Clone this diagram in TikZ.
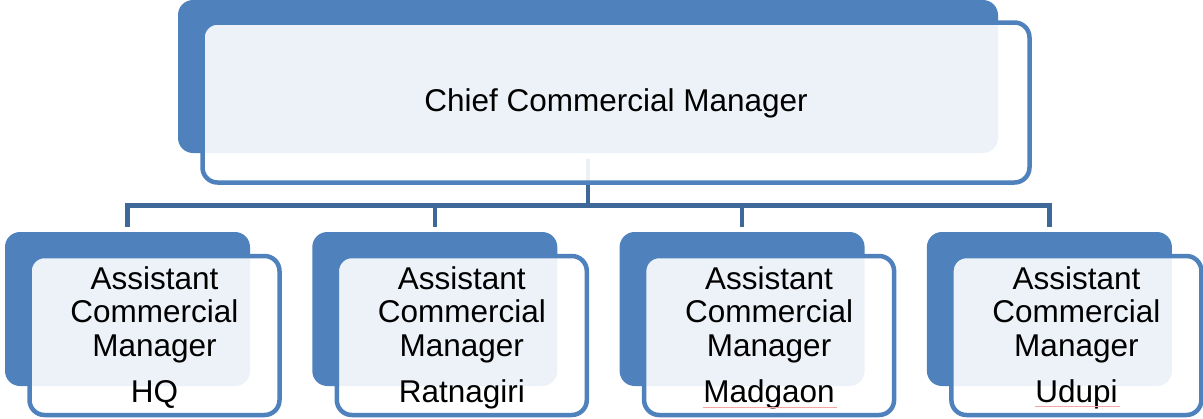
\documentclass[tikz,border=0pt]{standalone}
\usepackage{fontspec}
\setmainfont{Liberation Sans}
\definecolor{accent}{HTML}{4F81BD}
\definecolor{connblue}{HTML}{3E689A}
\definecolor{spell}{HTML}{F4A6A6}
\begin{document}
\begin{tikzpicture}[x=1pt,y=-1pt,
  backbox/.style={fill=accent, draw=none, rounded corners=15pt, inner sep=0pt, outer sep=0pt},
  frontbox/.style={fill=white, fill opacity=0.9, draw=accent, draw opacity=1, line width=4.5pt, rounded corners=15pt, inner sep=0pt, outer sep=0pt},
  conn/.style={draw=connblue, line width=4.5pt},
  lbl/.style={text=black, align=center, inner sep=0pt, font=\fontsize{31.5}{33.5}\selectfont},
  spellline/.style={draw=spell, line width=1pt}
]
\useasboundingbox (0,0) rectangle (1203,418);
% back boxes
\node[backbox, minimum width=820pt, minimum height=153pt] (tb) at (588,76.5) {};
\foreach \i/\x in {1/5,2/312.3,3/619.6,4/926.9}{
  \node[backbox, minimum width=245pt, minimum height=154pt] (b\i) at (\x+122.5,309) {};
}
% connectors
\coordinate (hub) at (588,205.5);
\draw[conn, shorten <=6pt] (tb.south) -- (hub);
\foreach \i in {1,2,3,4}{
  \draw[conn, shorten >=5pt] (hub) -| (b\i.north);
}
% front boxes
\node[frontbox, minimum width=827pt, minimum height=160pt] (tf) at (616,102.5) {};
\foreach \i/\x in {1/5,2/312.3,3/619.6,4/926.9}{
  \node[frontbox, minimum width=250pt, minimum height=159pt] (f\i) at (\x+149.5,335.5) {};
}
% labels
\node[lbl] (tl) at ([yshift=-1pt]tf.center) {Chief Commercial Manager};
\node[lbl] (l1) at ([yshift=-2pt]f1.center) {Assistant\\Commercial\\Manager\\[12.5pt]HQ};
\node[lbl] (l2) at ([yshift=-2pt]f2.center) {Assistant\\Commercial\\Manager\\[12.5pt]Ratnagiri};
\node[lbl] (l3) at ([yshift=-2pt]f3.center) {Assistant\\Commercial\\Manager\\[12.5pt]Madgaon};
\node[lbl] (l4) at ([yshift=-2pt]f4.center) {Assistant\\Commercial\\Manager\\[12.5pt]Udupi};
% spell-check underlines
\draw[spellline] (703,407.5) -- (837,407.5);
\draw[spellline] (1035,406.5) -- (1120,406.5);
\end{tikzpicture}
\end{document}
